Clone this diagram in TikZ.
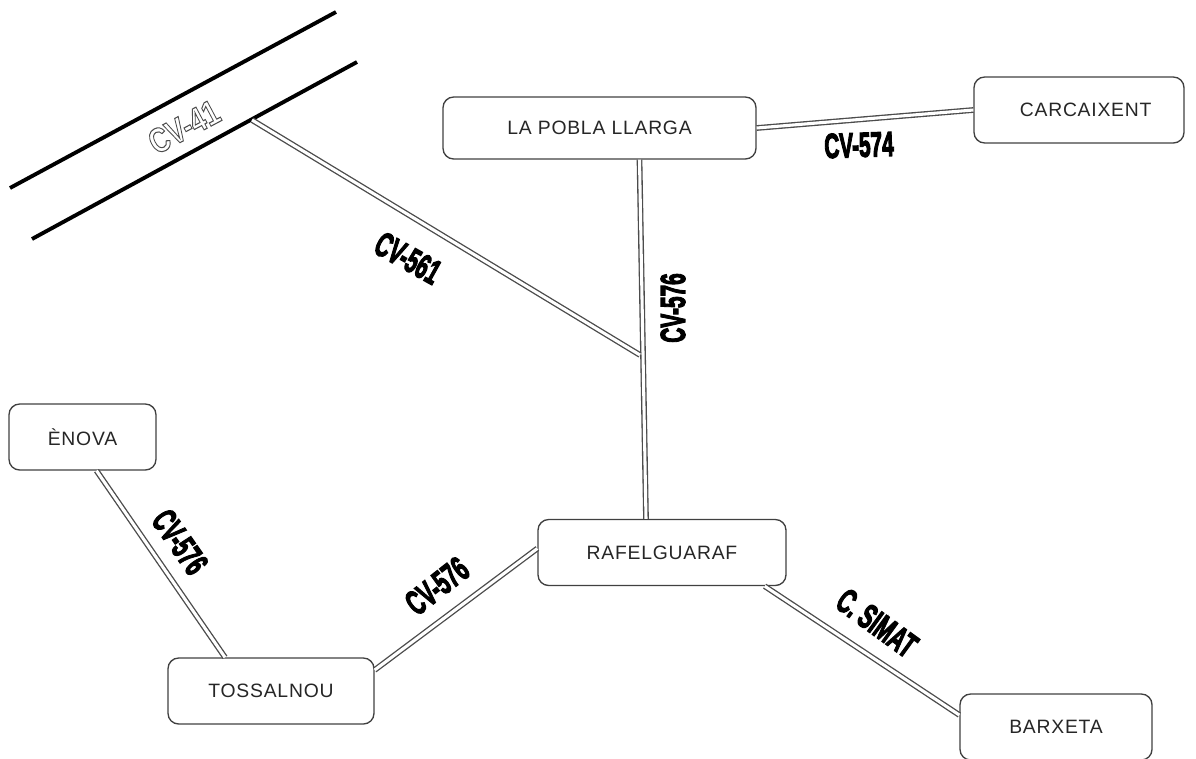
\documentclass[tikz,border=0pt]{standalone}
\usepackage{fontspec}
\setmainfont[LetterSpace=4]{Liberation Sans}
\newfontfamily\roadfont[FakeBold=4]{Liberation Sans Bold}
\newfontfamily\outlinefont{Liberation Sans Bold}
\usetikzlibrary{positioning}
\begin{document}
\begin{tikzpicture}[x=.75pt, y=-.75pt]
\tikzstyle{town}=[rectangle, draw=black!75, line width=1pt, rounded corners=8pt, minimum height=49.5pt, inner sep=0pt, text=black!85, font=\fontsize{14.5}{16}\selectfont]
\tikzstyle{road}=[draw=black!70, line width=1pt, double=white, double distance=2.3pt]
\tikzstyle{motorway}=[draw=black, line width=2.9pt]
\tikzstyle{roadname}=[inner sep=0pt, xscale=.6, font=\fontsize{26}{26}\roadfont]
\useasboundingbox (0,0) rectangle (1196,758);

\node[town, minimum width=234.75pt, minimum height=46.5pt] (pobla) at (599.5,128) {LA POBLA LLARGA};
\node[town, minimum width=157.5pt] (carcaixent) at (1079,110) {\hspace*{10pt}CARCAIXENT};
\node[town, minimum width=110.25pt] (enova) at (82.5,437) {ÈNOVA};
\node[town, minimum width=186pt] (rafel) at (662,552.5) {RAFELGUARAF};
\node[town, minimum width=154.5pt] (tossalnou) at (271,691) {TOSSALNOU};
\node[town, minimum width=144pt] (barxeta) at (1056,727) {BARXETA};

\coordinate (upperA) at (10,188);
\coordinate (upperB) at (336,12);
\coordinate (lowerA) at (32,239);
\coordinate (lowerB) at (357,62);
\coordinate (exit) at (252,120);
\coordinate (junction) at (640,355);

\path[motorway]
(upperA) edge (upperB)
(lowerA) edge (lowerB);

\path
(pobla.east) edge[road] (carcaixent.west)
([xshift=30pt]pobla.south) edge[road] ([xshift=-12pt]rafel.north)
(exit) edge[road] (junction)
([xshift=10.5pt]enova.south) edge[road] ([xshift=-34.5pt]tossalnou.north)
([yshift=15.75pt]tossalnou.east) edge[road] ([yshift=3pt]rafel.west)
([xshift=77pt]rafel.south) edge[road] ([yshift=9pt]barxeta.west);

\node[rotate=28, roadname, xscale=1.3] (cv41) at (184,127) {\fontsize{26}{26}\outlinefont\color{black!70}\special{pdf:code 1 Tr 0.8 w}CV-41\special{pdf:code 0 Tr}};
\node[rotate=-29, roadname] (cv561) at (408,258) {CV-561};
\node[rotate=2, roadname] (cv574) at (859,145) {CV-574};
\node[rotate=90, roadname] (cv576a) at (673,308) {CV-576};
\node[rotate=-55, roadname] (cv576b) at (180,542) {CV-576};
\node[rotate=38, roadname] (cv576c) at (437,586) {CV-576};
\node[rotate=-36, roadname] (simat) at (877,623) {C. SIMAT};

\end{tikzpicture}
\end{document}
